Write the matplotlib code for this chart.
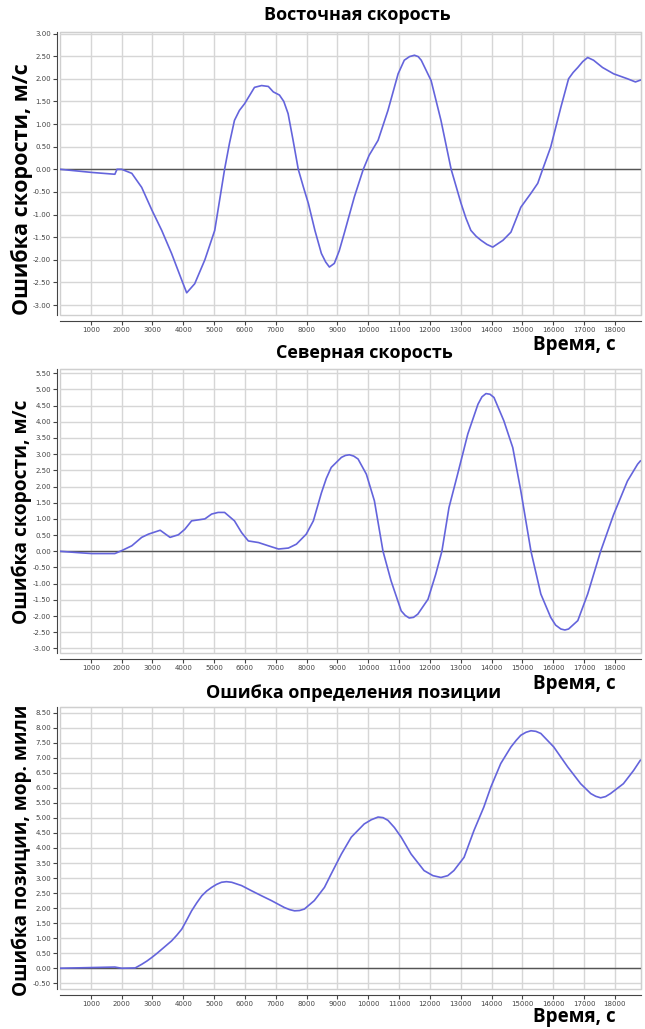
import matplotlib
matplotlib.use('Agg')
import matplotlib.pyplot as plt
import numpy as np

# --- данные ---
east_t = [0, 1035, 1780, 1850, 2000, 2330, 2650, 2980, 3300, 3620, 3950, 4110,
          4370, 4700, 5020, 5340, 5500, 5660, 5820, 5990, 6150, 6310, 6540, 6760,
          6920, 7120, 7260, 7400, 7560, 7730, 7900, 8060, 8270, 8480, 8620, 8740,
          8900, 9060, 9220, 9550, 9840, 10030, 10320, 10640, 10970, 11170, 11340,
          11500, 11620, 11720, 12040, 12360, 12690, 13010, 13170, 13330, 13500,
          13660, 13850, 14040, 14370, 14630, 14950, 15280, 15500, 15660, 15920,
          16250, 16500, 16650, 16800, 16960, 17120, 17310, 17600, 17960, 18410,
          18670, 18830]
east_v = [0.00, -0.07, -0.11, 0.00, 0.00, -0.09, -0.40, -0.90, -1.35, -1.86, -2.45, -2.73,
          -2.53, -2.00, -1.35, 0.00, 0.58, 1.08, 1.30, 1.45, 1.63, 1.81, 1.85, 1.83,
          1.71, 1.64, 1.50, 1.23, 0.65, 0.00, -0.40, -0.76, -1.35, -1.86, -2.05, -2.16,
          -2.08, -1.80, -1.42, -0.61, 0.00, 0.31, 0.64, 1.30, 2.11, 2.41, 2.49,
          2.52, 2.49, 2.41, 1.96, 1.08, 0.00, -0.75, -1.08, -1.35, -1.48,
          -1.57, -1.66, -1.72, -1.57, -1.39, -0.84, -0.53, -0.31, 0.00, 0.49,
          1.37, 2.00, 2.14, 2.25, 2.38, 2.47, 2.41, 2.25, 2.11, 2.00,
          1.93, 1.97]

north_t = [0, 710, 1035, 1780, 2000, 2330, 2650, 2870, 3250, 3570, 3840, 4050, 4270,
           4700, 4920, 5130, 5340, 5660, 5890, 6110, 6440, 6760, 7090, 7410, 7670,
           7990, 8220, 8480, 8640, 8800, 9130, 9260, 9390, 9530, 9670, 9940, 10200,
           10480, 10740, 11070, 11200, 11330, 11470, 11610, 11940, 12190, 12390,
           12620, 12900, 13230, 13560, 13690, 13820, 13950, 14080, 14400, 14690,
           14950, 15280, 15600, 15920, 16080, 16250, 16380, 16500, 16800, 17120,
           17540, 17960, 18410, 18740, 18830]
north_v = [0.00, -0.05, -0.07, -0.07, 0.02, 0.17, 0.43, 0.53, 0.65, 0.43, 0.51, 0.68, 0.94,
           1.00, 1.15, 1.20, 1.20, 0.94, 0.58, 0.32, 0.27, 0.17, 0.07, 0.10, 0.22,
           0.53, 0.94, 1.80, 2.25, 2.59, 2.90, 2.96, 2.98, 2.94, 2.85, 2.38, 1.56,
           0.00, -0.91, -1.84, -1.98, -2.06, -2.04, -1.94, -1.48, -0.71, 0.00,
           1.35, 2.38, 3.62, 4.54, 4.77, 4.87, 4.85, 4.75, 4.03, 3.20,
           1.87, 0.00, -1.32, -2.04, -2.28, -2.40, -2.43, -2.40, -2.14, -1.32,
           0.00, 1.13, 2.17, 2.69, 2.79]

pos_t = [0, 1780, 2000, 2440, 2650, 2820, 2980, 3140, 3300, 3460, 3620, 3790, 3950,
         4110, 4270, 4440, 4600, 4760, 4920, 5080, 5240, 5400, 5570, 5890, 6210,
         6540, 6860, 7280, 7450, 7610, 7770, 7930, 8250, 8580, 8800, 9130, 9450,
         9870, 10100, 10320, 10480, 10640, 10850, 11070, 11390, 11810, 12100,
         12360, 12580, 12780, 13110, 13430, 13750, 13980, 14300, 14630, 14800,
         14950, 15120, 15280, 15440, 15600, 16020, 16470, 16890, 17220, 17380,
         17540, 17700, 17860, 18280, 18610, 18830]
pos_v = [0.00, 0.04, 0.00, 0.01, 0.13, 0.24, 0.36, 0.49, 0.63, 0.77, 0.91, 1.10, 1.30,
         1.60, 1.91, 2.18, 2.41, 2.57, 2.69, 2.79, 2.86, 2.88, 2.86, 2.75, 2.58,
         2.41, 2.25, 2.02, 1.95, 1.91, 1.92, 1.97, 2.25, 2.69, 3.14, 3.80, 4.36,
         4.80, 4.94, 5.03, 5.01, 4.92, 4.68, 4.36, 3.80, 3.25, 3.08,
         3.02, 3.08, 3.25, 3.69, 4.58, 5.36, 6.03, 6.81, 7.36, 7.58,
         7.75, 7.85, 7.90, 7.88, 7.81, 7.36, 6.70, 6.14, 5.81, 5.72,
         5.67, 5.71, 5.81, 6.14, 6.58, 6.92]

x_ticks = list(range(1000, 19000, 1000))

titles = ['Восточная скорость', 'Северная скорость', 'Ошибка определения позиции']
ylabels = ['Ошибка скорости, м/с', 'Ошибка скорости, м/с', 'Ошибка позиции, мор. мили']
xlabel = 'Время, с'

FONT = ['Open Sans', 'DejaVu Sans']
LINE_COLOR = '#6464dc'

W, H = 645, 1029
fig = plt.figure(figsize=(W / 100, H / 100), dpi=100)


def px_rect(left, top, right, bottom):
    return [left / W, 1 - bottom / H, (right - left) / W, (bottom - top) / H]


panels = [
    dict(t=east_t, v=east_v, rect=px_rect(60, 31.7, 641, 315), ylim=(-3.22, 3.04),
         yt=np.arange(-3.0, 3.01, 0.5), title_xy=(357, 15), ylab_xy=(22, 189),
         ylab_fs=15.5, xlab_xy=(574, 345)),
    dict(t=north_t, v=north_v, rect=px_rect(60, 369.3, 641, 653.3), ylim=(-3.15, 5.62),
         yt=np.arange(-3.0, 5.51, 0.5), title_xy=(364, 353), ylab_xy=(22, 512),
         ylab_fs=13.8, xlab_xy=(574, 684)),
    dict(t=pos_t, v=pos_v, rect=px_rect(60, 707.3, 641, 989.3), ylim=(-0.7, 8.68),
         yt=np.arange(-0.5, 8.51, 0.5), title_xy=(354, 693), ylab_xy=(22, 850),
         ylab_fs=13.6, xlab_xy=(574, 1017)),
]

for i, p in enumerate(panels):
    ax = fig.add_axes(p['rect'])
    ax.set_xlim(0, 18850)
    ax.set_ylim(*p['ylim'])
    ax.set_xticks(x_ticks)
    ax.set_xticklabels([str(x) for x in x_ticks])
    ax.set_yticks(p['yt'])
    ax.set_yticklabels([f'{y:.2f}' for y in p['yt']])
    ax.tick_params(labelsize=5, colors='#444444', length=3, width=0.8, pad=1.5)
    ax.grid(True, color='#d6d6d6', linewidth=1.0)
    ax.set_axisbelow(True)

    for side in ('top', 'right'):
        ax.spines[side].set_color('#cfcfcf')
    ax.spines['left'].set_position(('outward', 2))
    ax.spines['bottom'].set_position(('outward', 4))
    ax.spines['left'].set_color('#444444')
    ax.spines['bottom'].set_color('#444444')
    ax.patch.set_edgecolor('#cfcfcf')
    ax.patch.set_linewidth(1.0)

    ax.axhline(0, color='#555555', linewidth=1.0, zorder=2)
    ax.plot(p['t'], p['v'], color=LINE_COLOR, linewidth=1.2, zorder=3)

    tx, ty = p['title_xy']
    fig.text(tx / W, 1 - ty / H, titles[i], ha='center', va='center',
             fontsize=13, fontweight='bold', family=FONT)
    lx, ly = p['ylab_xy']
    fig.text(lx / W, 1 - ly / H, ylabels[i], ha='center', va='center', rotation=90,
             fontsize=p['ylab_fs'], fontweight='bold', family=FONT)
    xx, xy = p['xlab_xy']
    fig.text(xx / W, 1 - xy / H, xlabel, ha='center', va='center',
             fontsize=13.5, fontweight='bold', family=FONT)

fig.savefig('out.png', dpi=100)
